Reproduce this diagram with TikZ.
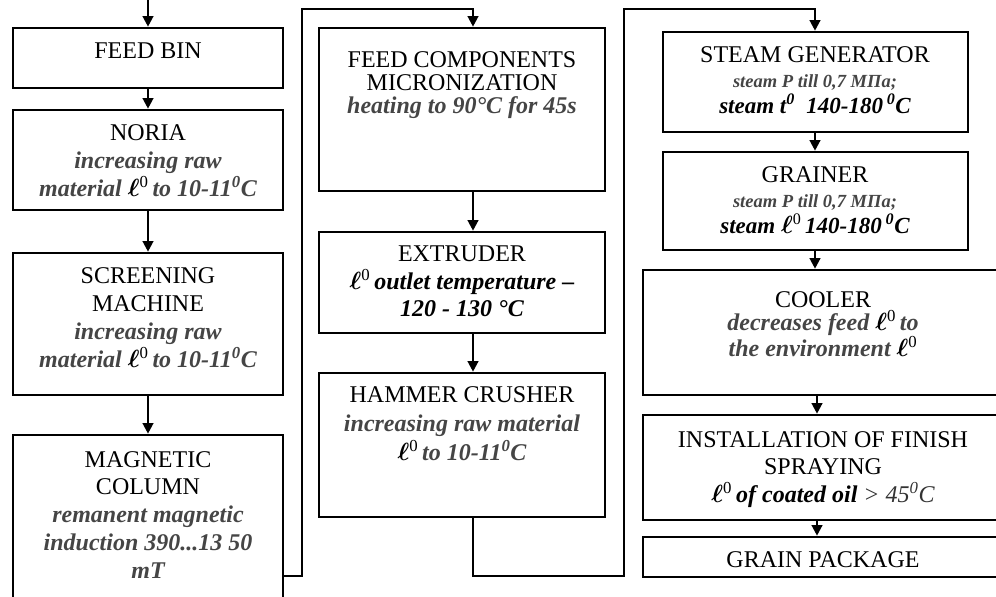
\documentclass[tikz,border=0pt]{standalone}
\usepackage{fontspec}
\setmainfont{Liberation Serif}
\usetikzlibrary{arrows.meta,fit}
\definecolor{itgray}{gray}{0.27}
\newcommand{\gi}[1]{{\color{itgray}\bfseries\itshape #1}}
\newcommand{\bi}[1]{{\color{black}\bfseries\itshape #1}}
\newcommand{\lz}{{\color{black}{\boldmath$\ell$}\textsuperscript{0}}}
\newcommand{\smallsz}{\fontsize{18.5}{25.5}\selectfont}
\newcommand{\midsz}{\fontsize{23}{25.5}\selectfont}
\begin{document}
\begin{tikzpicture}[x=1pt,y=-1pt,
  blk/.style={draw, line width=2.6pt, inner sep=0pt, rectangle},
  txt/.style={anchor=north, align=center, inner sep=0pt, font=\fontsize{24}{#1}\selectfont},
  flow/.style={line width=2.2pt, -{Triangle[length=10.5pt,width=10.5pt]}},
  wire/.style={line width=2.2pt}]
\clip (0,0) rectangle (996,597);

% boxes
\node[blk, fit={(13,28) (283,88)}] (feedbin) {};
\node[blk, fit={(13,110) (283,210)}] (noria) {};
\node[blk, fit={(13,253) (283,395)}] (screen) {};
\node[blk, fit={(13,435) (283,620)}] (magnet) {};
\node[blk, fit={(319,28) (605,191)}] (feedcomp) {};
\node[blk, fit={(319,232) (605,333)}] (extruder) {};
\node[blk, fit={(319,373) (605,517)}] (hammer) {};
\node[blk, fit={(663,32) (968,132)}] (steam) {};
\node[blk, fit={(663,152) (968,250)}] (grainer) {};
\node[blk, fit={(643,270) (1003,395)}] (cooler) {};
\node[blk, fit={(643,415) (1003,520)}] (install) {};
\node[blk, fit={(643,537) (1003,577)}] (package) {};

% texts
\node[txt=28] (feedbin-t) at (148,43) {FEED BIN};
\node[txt=28] (noria-t) at (148,124) {NORIA\\ \gi{increasing raw}\\ \gi{material} \lz\,\gi{to 10-11\textsuperscript{0}C}};
\node[txt=28.3] (screen-t) at (148,267) {SCREENING\\ MACHINE\\ \gi{increasing raw}\\ \gi{material} \lz\,\gi{to 10-11\textsuperscript{0}C}};
\node[txt=27.75] (magnet-t) at (148,451) {MAGNETIC\\ COLUMN\\ \gi{remanent magnetic}\\ \gi{induction 390...13 50}\\ \gi{mT}};
\node[txt=23] (feedcomp-t) at (462,51) {FEED COMPONENTS\\ MICRONIZATION\\ \gi{heating to 90°C for 45s}};
\node[txt=27.5] (extruder-t) at (462,246) {EXTRUDER\\ \lz\,\bi{outlet temperature –}\\ \bi{120 - 130 °C}};
\node[txt=29] (hammer-t) at (462,386) {HAMMER CRUSHER\\ \gi{increasing raw material}\\ \lz\,\gi{to 10-11\textsuperscript{0}C}};
\node[txt=25.5] (steam-t) at (815,46) {STEAM GENERATOR\\ {\smallsz\gi{steam P till 0,7 МПа;}}\\ {\midsz\bi{steam t\textsuperscript{0}\enspace 140-180\,\textsuperscript{0}C}}};
\node[txt=25.5] (grainer-t) at (815,166) {GRAINER\\ {\smallsz\gi{steam P till 0,7 МПа;}}\\ {\midsz\bi{steam} \lz\,\bi{140-180\,\textsuperscript{0}C}}};
\node[txt=23] (cooler-t) at (823,291) {COOLER\\ \gi{decreases feed} \lz\,\gi{to}\\ \gi{the environment} \lz};
\node[txt=27.5] (install-t) at (823,431) {INSTALLATION OF FINISH\\ SPRAYING\\ \lz\,\bi{of coated oil} {\color{black!80}\itshape > 45\textsuperscript{0}C}};
\node[txt=28] (package-t) at (823,551) {GRAIN PACKAGE};

% connector coordinates
\coordinate (start) at (148,0);
\coordinate (xl) at (148,0);
\coordinate (xm) at (473,0);
\coordinate (xr) at (815,0);
\coordinate (xr2) at (817,0);
\coordinate (m-out) at (283,576);
\coordinate (b1) at (302,9);
\coordinate (b2) at (624,576);
\coordinate (b3) at (624,9);

% arrows
\draw[flow] (start) -- (feedbin.north);
\draw[flow] (feedbin.south -| xl) -- (noria.north -| xl);
\draw[flow] (noria.south -| xl) -- (screen.north -| xl);
\draw[flow] (screen.south -| xl) -- (magnet.north -| xl);
\draw[flow] (m-out) -| (b1) -| (feedcomp.north -| xm);
\draw[flow] (feedcomp.south -| xm) -- (extruder.north -| xm);
\draw[flow] (extruder.south -| xm) -- (hammer.north -| xm);
\draw[flow] (hammer.south -| xm) |- (b2) -- (b3) -| (steam.north -| xr);
\draw[flow] (steam.south -| xr) -- (grainer.north -| xr);
\draw[flow] (grainer.south -| xr) -- (cooler.north -| xr);
\draw[flow] (cooler.south -| xr2) -- (install.north -| xr2);
\draw[flow] (install.south -| xr2) -- (package.north -| xr2);
\end{tikzpicture}
\end{document}
